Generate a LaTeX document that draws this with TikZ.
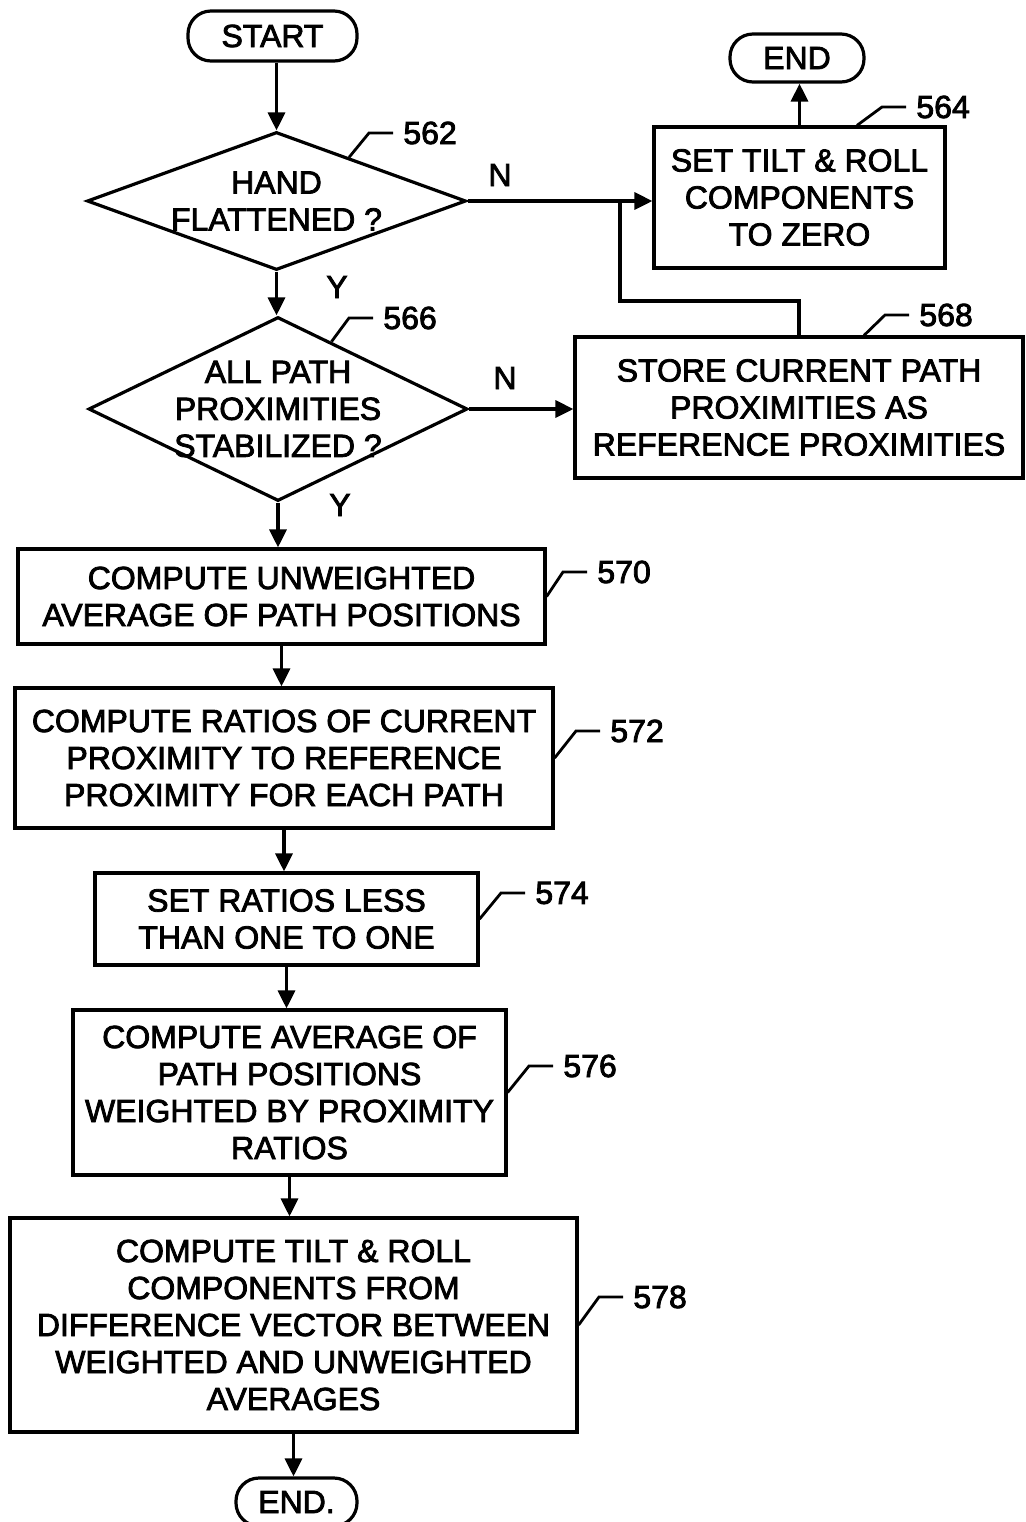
\documentclass[tikz,border=0pt]{standalone}
\usepackage{fontspec}
\setmainfont{Liberation Sans}[FakeBold=2.5]
\usetikzlibrary{shapes.geometric,arrows.meta,calc}
\begin{document}
\begin{tikzpicture}[x=0.5pt,y=-0.5pt,
  every node/.style={font=\fontsize{16}{18.5}\selectfont, inner sep=0pt, align=center},
  box/.style={draw, line width=1.6pt, rectangle},
  term/.style={draw, line width=1.6pt, rounded corners=11.5pt},
  dia/.style={draw, line width=1.6pt, diamond},
  con/.style={line width=1.6pt},
  arr/.style={con, -{Triangle[length=9pt,width=8.5pt]}},
  lead/.style={line width=1.4pt},
  lbl/.style={anchor=west}]
\useasboundingbox (0,0) rectangle (1026,1522);

% terminators
\node[term, minimum width=84.5pt, minimum height=25pt] (start) at (272.5,36) {START};
\node[term, minimum width=67pt, minimum height=24pt] (end1) at (797,58) {END};
\node[term, minimum width=60.5pt, minimum height=24pt] (end2) at (296.5,1502) {END.};

% decisions
\node[dia, minimum width=189.5pt, minimum height=69pt] (d1) at (276.5,201) {};
\node (t1) at (d1.center) {HAND\\FLATTENED ?};
\node[dia, minimum width=189.5pt, minimum height=92pt] (d2) at (278,409) {};
\node (t2) at (d2.center) {ALL PATH\\PROXIMITIES\\STABILIZED ?};

% process boxes
\node[box, minimum width=145.5pt, minimum height=70.5pt] (b564) at (799.5,197.5) {SET TILT \& ROLL\\COMPONENTS\\TO ZERO};
\node[box, minimum width=224pt, minimum height=70.5pt] (b568) at (799,407.5) {STORE CURRENT PATH\\PROXIMITIES AS\\REFERENCE PROXIMITIES};
\node[box, minimum width=263.5pt, minimum height=47.5pt] (b570) at (281.5,596.5) {COMPUTE UNWEIGHTED\\AVERAGE OF PATH POSITIONS};
\node[box, minimum width=269pt, minimum height=70pt] (b572) at (284,758) {COMPUTE RATIOS OF CURRENT\\PROXIMITY TO REFERENCE\\PROXIMITY FOR EACH PATH};
\node[box, minimum width=191.5pt, minimum height=46pt] (b574) at (286.5,919) {SET RATIOS LESS\\THAN ONE TO ONE};
\node[box, minimum width=216.5pt, minimum height=82.5pt] (b576) at (289.5,1092.5) {COMPUTE AVERAGE OF\\PATH POSITIONS\\WEIGHTED BY PROXIMITY\\RATIOS};
\node[box, minimum width=283.5pt, minimum height=107pt] (b578) at (293.5,1325) {COMPUTE TILT \& ROLL\\COMPONENTS FROM\\DIFFERENCE VECTOR BETWEEN\\WEIGHTED AND UNWEIGHTED\\AVERAGES};

% branch labels
\node (n1) at (500,175) {N};
\node (y1) at (337,287) {Y};
\node (n2) at (505,378) {N};
\node (y2) at (340,505) {Y};

% connectors
\draw[arr] (start.south -| d1.north) -- (d1.north);
\draw[arr] (d1.east) -- (d1.east -| b564.west);
\coordinate (j) at (620,199);
\coordinate (jb) at (620,301);
\draw[con] (b568.north) |- (jb) -- (j);
\draw[arr] (b564.north) -- (b564.north |- end1.south);
\draw[arr] (d1.south) -- (d1.south |- d2.north);
\draw[arr] (d2.east) -- (d2.east -| b568.west);
\draw[arr] (d2.south) -- (d2.south |- b570.north);
\draw[arr] (b570.south) -- (b570.south |- b572.north);
\draw[arr] (b572.south) -- (b572.south |- b574.north);
\draw[arr] (b574.south) -- (b574.south |- b576.north);
\draw[arr] (b576.south) -- (b576.south |- b578.north);
\draw[arr] (b578.south) -- (b578.south |- end2.north);

% reference numerals
\node[lbl] (l562) at (403,133) {562};
\node[lbl] (l566) at (383,318) {566};
\node[lbl] (l564) at (916,107) {564};
\node[lbl] (l568) at (919,315) {568};
\node[lbl] (l570) at (597,572) {570};
\node[lbl] (l572) at (610,731) {572};
\node[lbl] (l574) at (535,893) {574};
\node[lbl] (l576) at (563,1066) {576};
\node[lbl] (l578) at (633,1297) {578};

\draw[lead] ($(d1.north)!0.38!(d1.east)$) -- ([xshift=-17pt]l562.west) -- ([xshift=-5pt]l562.west);
\draw[lead] ($(d2.north)!0.28!(d2.east)$) -- ([xshift=-17pt]l566.west) -- ([xshift=-5pt]l566.west);
\draw[lead] ([xshift=28.75pt]b564.north) -- ([xshift=-17pt]l564.west) -- ([xshift=-5pt]l564.west);
\draw[lead] ([xshift=32.5pt]b568.north) -- ([xshift=-17pt]l568.west) -- ([xshift=-5pt]l568.west);
\draw[lead] (b570.east) -- ([xshift=-17pt]l570.west) -- ([xshift=-5pt]l570.west);
\draw[lead] (b572.east) -- ([xshift=-17pt]l572.west) -- ([xshift=-5pt]l572.west);
\draw[lead] (b574.east) -- ([xshift=-17pt]l574.west) -- ([xshift=-5pt]l574.west);
\draw[lead] (b576.east) -- ([xshift=-17pt]l576.west) -- ([xshift=-5pt]l576.west);
\draw[lead] (b578.east) -- ([xshift=-17pt]l578.west) -- ([xshift=-5pt]l578.west);
\end{tikzpicture}
\end{document}
